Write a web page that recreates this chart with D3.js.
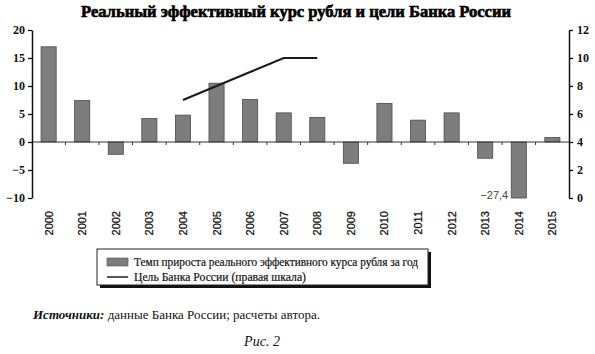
<!DOCTYPE html>
<html lang="ru">
<head>
<meta charset="utf-8">
<title>Реальный эффективный курс рубля</title>
<script src="https://d3js.org/d3.v7.min.js"></script>
<style>
  body { margin: 0; background: #fff; }
</style>
</head>
<body>
<svg id="chart" width="595" height="354" style="font-family: 'Liberation Serif', serif"></svg>
<script>
// data
var years = ["2000","2001","2002","2003","2004","2005","2006","2007","2008","2009","2010","2011","2012","2013","2014","2015"]
var reerGrowth = [17, 7.4, -2.2, 4.2, 4.8, 10.5, 7.6, 5.2, 4.4, -3.8, 6.9, 3.9, 5.2, -2.9, -27.4, 0.8]
var targetYears = ["2004","2005","2006","2007","2008"]
var targetValues = [7, 8, 9, 10, 10]
var leftTicks = [20, 15, 10, 5, 0, -5, -10]
var rightTicks = [12, 10, 8, 6, 4, 2, 0]

var svg = d3.select("#chart")
var plotL = 32, plotR = 569, plotT = 30, plotB = 198

var x = d3.scaleBand().domain(years).range([plotL, plotR]).paddingInner(0.55).paddingOuter(0.27)
var y = d3.scaleLinear().domain([-10, 20]).range([plotB, plotT])
var y2 = d3.scaleLinear().domain([0, 12]).range([plotB, plotT])

// title (heavy face in the scan, thickened with a thin stroke)
svg.append("text")
  .attr("x", 296).attr("y", 17)
  .attr("text-anchor", "middle")
  .attr("font-weight", "bold")
  .attr("font-size", 16)
  .attr("stroke", "#000").attr("stroke-width", 0.6)
  .attr("textLength", 430)
  .attr("lengthAdjust", "spacingAndGlyphs")
  .text("Реальный эффективный курс рубля и цели Банка России")

// bars (clipped at the bottom of the axis)
svg.append("g").selectAll("rect")
  .data(reerGrowth)
  .join("rect")
  .attr("x", (d, i) => x(years[i]))
  .attr("width", x.bandwidth())
  .attr("y", d => y(Math.max(0, d)))
  .attr("height", d => Math.abs(y(Math.max(d, -10)) - y(0)))
  .attr("fill", "#7d7d7d")
  .attr("stroke", "#4a4a4a")
  .attr("stroke-width", 0.8)

// zero line with ticks at band borders
svg.append("line")
  .attr("x1", plotL).attr("x2", plotR)
  .attr("y1", y(0)).attr("y2", y(0))
  .attr("stroke", "#333").attr("stroke-width", 1)
svg.append("g").selectAll("line")
  .data(years.slice(1))
  .join("line")
  .attr("x1", d => x(d) - x.step() * 0.275).attr("x2", d => x(d) - x.step() * 0.275)
  .attr("y1", y(0)).attr("y2", y(0) + 3)
  .attr("stroke", "#333")

// left axis
var ga = svg.append("g")
  .attr("transform", "translate(" + plotL + ",0)")
  .call(d3.axisLeft(y).tickValues(leftTicks).tickSize(4).tickSizeOuter(0).tickFormat(d => d < 0 ? "\u2212" + (-d) : d))
ga.select(".domain").attr("stroke", "#111").attr("stroke-width", 1.5)
ga.selectAll(".tick line").attr("stroke", "#111").attr("stroke-width", 1.3)
ga.selectAll(".tick text").style("font-family", "'Liberation Serif'").style("font-weight", "bold").style("font-size", "12px").attr("fill", "#111")

// right axis
var gb = svg.append("g")
  .attr("transform", "translate(" + plotR + ",0)")
  .call(d3.axisRight(y2).tickValues(rightTicks).tickSize(4).tickSizeOuter(0))
gb.select(".domain").attr("stroke", "#111").attr("stroke-width", 1.5)
gb.selectAll(".tick line").attr("stroke", "#111").attr("stroke-width", 1.3)
gb.selectAll(".tick text").style("font-family", "'Liberation Serif'").style("font-weight", "bold").style("font-size", "12px").attr("fill", "#111").attr("x", 8)

// target line
var line = d3.line().x((d, i) => x(targetYears[i]) + x.bandwidth() / 2).y(d => y2(d))
svg.append("path")
  .datum(targetValues)
  .attr("d", line)
  .attr("fill", "none")
  .attr("stroke", "#1a1a1a")
  .attr("stroke-width", 2)

// label for the clipped 2014 bar
svg.append("text")
  .attr("x", x("2014") - 3).attr("y", y(-10) + 1)
  .attr("text-anchor", "end")
  .style("font-family", "'Liberation Sans'")
  .attr("font-size", 11)
  .attr("fill", "#444")
  .text("\u221227,4")

// year labels
svg.append("g").selectAll("text")
  .data(years)
  .join("text")
  .attr("transform", d => "translate(" + (x(d) + x.bandwidth() / 2 + 4) + ",211) rotate(-90)")
  .attr("text-anchor", "end")
  .style("font-family", "'Liberation Sans'")
  .attr("font-size", 11)
  .attr("fill", "#111")
  .attr("stroke", "#111").attr("stroke-width", 0.25)
  .text(d => d)

// legend
var lg = svg.append("g")
lg.append("rect").attr("x", 100).attr("y", 252).attr("width", 331).attr("height", 36).attr("fill", "#111")
lg.append("rect").attr("x", 97).attr("y", 249).attr("width", 331).attr("height", 36).attr("fill", "#fff").attr("stroke", "#222").attr("stroke-width", 1)
lg.append("rect").attr("x", 107).attr("y", 258).attr("width", 21).attr("height", 8).attr("fill", "#7d7d7d").attr("stroke", "#555").attr("stroke-width", 0.6)
lg.append("line").attr("x1", 107).attr("x2", 128).attr("y1", 277).attr("y2", 277).attr("stroke", "#222").attr("stroke-width", 1.5)
lg.append("text").attr("x", 134).attr("y", 266).attr("font-size", 12).attr("fill", "#111")
  .attr("stroke", "#111").attr("stroke-width", 0.2)
  .attr("textLength", 284).attr("lengthAdjust", "spacingAndGlyphs")
  .text("Темп прироста реального эффективного курса рубля за год")
lg.append("text").attr("x", 134).attr("y", 281).attr("font-size", 12).attr("fill", "#111")
  .attr("stroke", "#111").attr("stroke-width", 0.2)
  .attr("textLength", 172).attr("lengthAdjust", "spacingAndGlyphs")
  .text("Цель Банка России  (правая шкала)")

// source
var src = svg.append("text").attr("x", 33).attr("y", 319).attr("font-size", 13).attr("fill", "#111")
src.append("tspan").attr("font-style", "italic").attr("font-weight", "bold").text("Источники:")
src.append("tspan").text(" данные Банка России; расчеты автора.")

svg.append("text")
  .attr("x", 262).attr("y", 346)
  .attr("text-anchor", "middle")
  .attr("font-style", "italic")
  .attr("font-size", 14)
  .attr("fill", "#111")
  .text("Рис. 2")
</script>
</body>
</html>
